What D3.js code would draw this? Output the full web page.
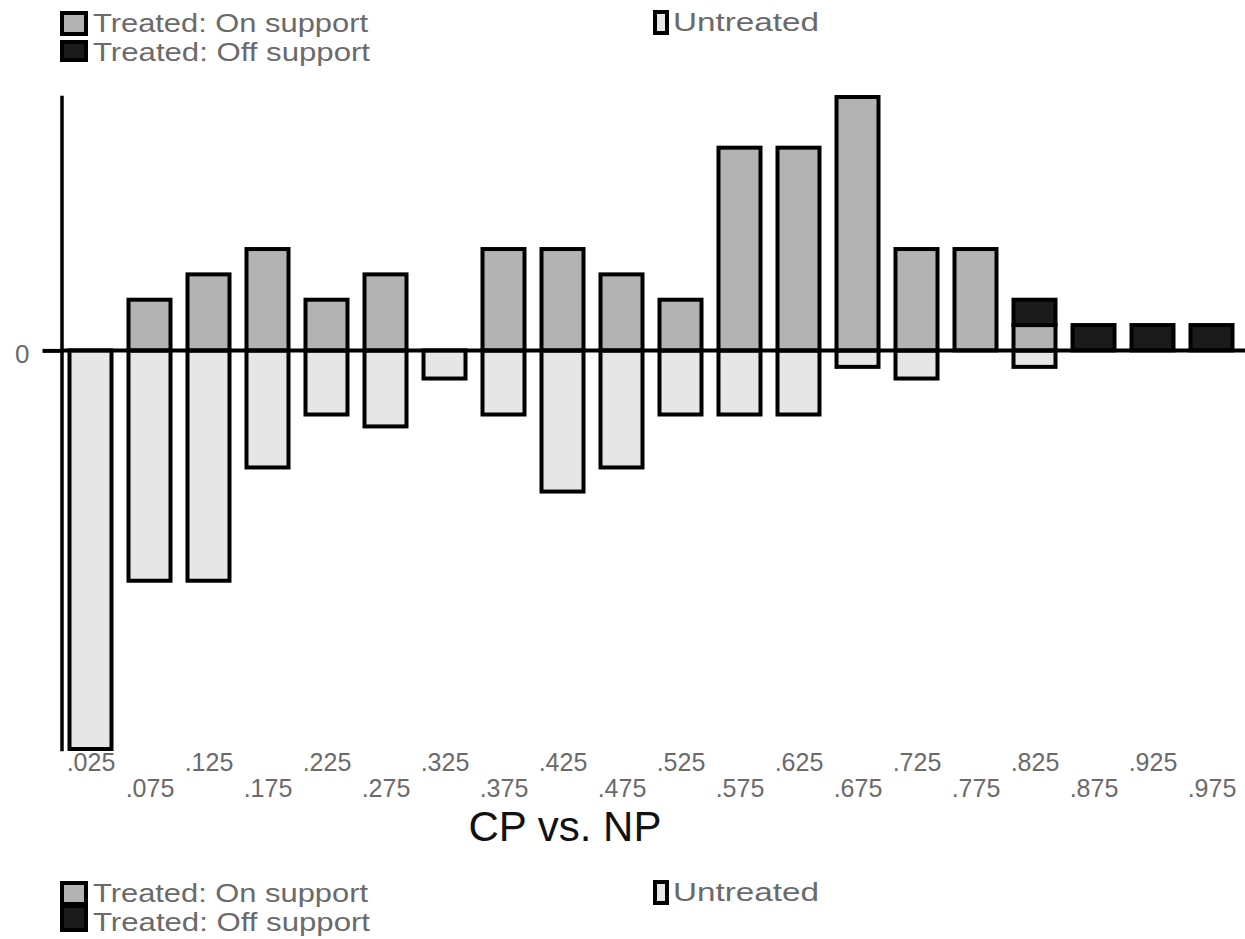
<!DOCTYPE html>
<html>
<head>
<meta charset="utf-8">
<script src="https://cdn.jsdelivr.net/npm/d3@7"></script>
<style>
  html, body { margin: 0; padding: 0; background: #fff; }
  svg { display: block; }
  text { font-family: "Liberation Sans", Arial, Helvetica, sans-serif; }
</style>
</head>
<body>
<svg id="chart" width="1245" height="939"></svg>
<script>
// ---- data ----
const bins = [0.025,0.075,0.125,0.175,0.225,0.275,0.325,0.375,0.425,0.475,
              0.525,0.575,0.625,0.675,0.725,0.775,0.825,0.875,0.925,0.975];
const tickLabels = [".025",".075",".125",".175",".225",".275",".325",".375",".425",".475",
                    ".525",".575",".625",".675",".725",".775",".825",".875",".925",".975"];
const treatedOn  = [0,2,3,4,2,3,0,4,4,3,2,8,8,10,4,4,1,0,0,0];
const treatedOff = [0,0,0,0,0,0,0,0,0,0,0,0,0,0,0,0,1,1,1,1];
const untreated  = [15.73,9.09,9.09,4.62,2.53,3.0,1.11,2.53,5.57,4.62,
                    2.53,2.53,2.53,0.65,1.11,0,0.65,0,0,0];
const yTicks = [0];
const xTitle = "CP vs. NP";
const legendLabels = ["Treated: On support", "Treated: Off support", "Untreated"];

// ---- styles ----
const colOn = "#b3b3b3", colOff = "#1a1a1a", colUn = "#e6e6e6";
const textGray = "#6a6a6a";

const svg = d3.select("#chart");

const x = d3.scaleLinear().domain([0, 1]).range([61, 1241]);
const y = d3.scaleLinear().domain([-15.73, 10]).range([749, 97]);
const barW = 42;

const rows = bins.map((b, i) => ({
  b, lab: tickLabels[i], on: treatedOn[i], off: treatedOff[i], un: untreated[i]
}));

const g = svg.append("g");

// untreated (below zero)
g.selectAll("rect.un").data(rows.filter(d => d.un > 0)).join("rect")
  .attr("class", "un")
  .attr("x", d => x(d.b) - barW / 2)
  .attr("width", barW)
  .attr("y", y(0))
  .attr("height", d => y(-d.un) - y(0))
  .attr("fill", colUn).attr("stroke", "#000").attr("stroke-width", 4);

// treated on support
g.selectAll("rect.on").data(rows.filter(d => d.on > 0)).join("rect")
  .attr("class", "on")
  .attr("x", d => x(d.b) - barW / 2)
  .attr("width", barW)
  .attr("y", d => y(d.on))
  .attr("height", d => y(0) - y(d.on))
  .attr("fill", colOn).attr("stroke", "#000").attr("stroke-width", 4);

// treated off support (stacked on top of on-support)
g.selectAll("rect.off").data(rows.filter(d => d.off > 0)).join("rect")
  .attr("class", "off")
  .attr("x", d => x(d.b) - barW / 2)
  .attr("width", barW)
  .attr("y", d => y(d.on + d.off))
  .attr("height", d => y(d.on) - y(d.on + d.off))
  .attr("fill", colOff).attr("stroke", "#000").attr("stroke-width", 4);

// zero line
g.append("line")
  .attr("x1", x(0)).attr("x2", 1245)
  .attr("y1", y(0)).attr("y2", y(0))
  .attr("stroke", "#000").attr("stroke-width", 4);

// y axis
const yAxis = d3.axisLeft(y).tickValues(yTicks).tickFormat(d3.format("d"))
  .tickSize(19).tickSizeOuter(0).tickPadding(13);
const ya = svg.append("g").attr("transform", `translate(${x(0) + 0.5},0)`).call(yAxis);
ya.select(".domain").attr("stroke", "#000").attr("stroke-width", 3.5)
  .attr("stroke-linecap", "square");
ya.selectAll(".tick line").attr("stroke", "#000").attr("stroke-width", 4);
ya.selectAll(".tick text").attr("font-size", 26).attr("fill", textGray)
  .attr("font-family", "Liberation Sans, Arial, sans-serif").attr("dy", "0.45em");

// x axis labels (staggered)
const xAxis = d3.axisBottom(x).tickValues(bins)
  .tickFormat((d, i) => tickLabels[i]).tickSize(0).tickPadding(0);
const xa = svg.append("g").attr("transform", "translate(0,752)").call(xAxis);
xa.select(".domain").remove();
xa.selectAll(".tick text")
  .attr("font-size", 25).attr("fill", textGray)
  .attr("font-family", "Liberation Sans, Arial, sans-serif")
  .attr("dy", null)
  .attr("y", (d, i) => i % 2 === 0 ? 19 : 45);

// x title
svg.append("text").attr("x", 565).attr("y", 841).attr("text-anchor", "middle")
  .attr("font-size", 42).attr("fill", "#111").text(xTitle);

// legends
function legend(top, gap) {
  const lg = svg.append("g");
  lg.append("rect").attr("x", 62).attr("y", top + 2).attr("width", 24).attr("height", 21)
    .attr("fill", colOn).attr("stroke", "#000").attr("stroke-width", 4);
  lg.append("rect").attr("x", 62).attr("y", top + 25 + gap).attr("width", 24).attr("height", 24 - gap)
    .attr("fill", colOff).attr("stroke", "#000").attr("stroke-width", 4);
  lg.append("rect").attr("x", 655).attr("y", top + 1).attr("width", 12).attr("height", 21)
    .attr("fill", colUn).attr("stroke", "#000").attr("stroke-width", 4);
  lg.append("text").attr("x", 93).attr("y", top + 21).attr("font-size", 25)
    .attr("textLength", 275).attr("lengthAdjust", "spacingAndGlyphs")
    .attr("fill", textGray).text(legendLabels[0]);
  lg.append("text").attr("x", 93).attr("y", top + 50).attr("font-size", 25)
    .attr("textLength", 277).attr("lengthAdjust", "spacingAndGlyphs")
    .attr("fill", textGray).text(legendLabels[1]);
  lg.append("text").attr("x", 673).attr("y", top + 20).attr("font-size", 25)
    .attr("textLength", 146).attr("lengthAdjust", "spacingAndGlyphs")
    .attr("fill", textGray).text(legendLabels[2]);
}
legend(11, 6);
legend(881, 0);
</script>
</body>
</html>
